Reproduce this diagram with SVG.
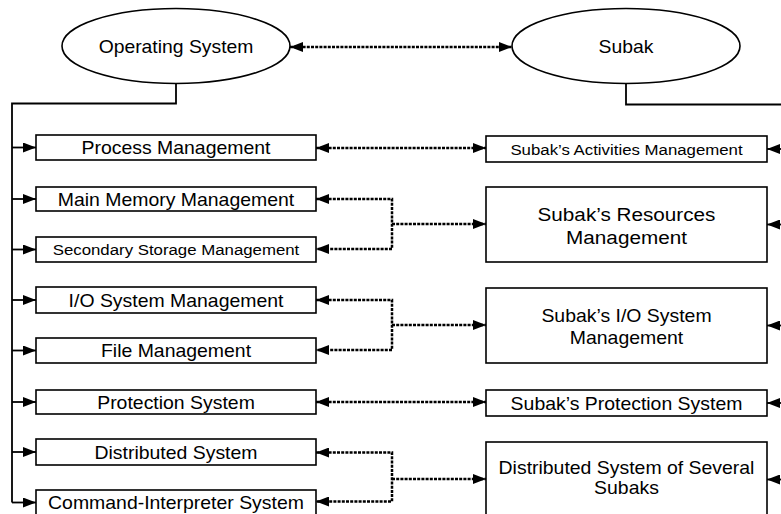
<svg xmlns="http://www.w3.org/2000/svg" width="781" height="514" viewBox="0 0 781 514">
  <style>
    .shape { fill: #ffffff; stroke: #000000; stroke-width: 1.6; }
    .tree { fill: none; stroke: #000000; stroke-width: 1.8; }
    .dot { fill: none; stroke: #000000; stroke-width: 2.5; stroke-dasharray: 3 1.2; }
    .lbl { font-family: "Liberation Sans", Arial, sans-serif; font-size: 18px; fill: #000000; text-anchor: middle; }
    .sm { font-size: 15.5px; }
    .lg { font-size: 19px; }
  </style>
  <defs>
    <marker id="ah" viewBox="0 0 13 10" refX="13" refY="5" markerWidth="13" markerHeight="10" markerUnits="userSpaceOnUse" orient="auto-start-reverse">
      <path d="M0,0 L13,5 L0,10 Z" fill="#000000"/>
    </marker>
  </defs>

  <!-- connectors -->
  <g id="connectors">
    <!-- operating system tree -->
    <path class="tree" d="M176,84 V103.5 H12 V502.5"/>
    <path class="tree" d="M12,147.5 H36" marker-end="url(#ah)"/>
    <path class="tree" d="M12,199 H36" marker-end="url(#ah)"/>
    <path class="tree" d="M12,249.5 H36" marker-end="url(#ah)"/>
    <path class="tree" d="M12,300 H36" marker-end="url(#ah)"/>
    <path class="tree" d="M12,350.5 H36" marker-end="url(#ah)"/>
    <path class="tree" d="M12,402 H36" marker-end="url(#ah)"/>
    <path class="tree" d="M12,452 H36" marker-end="url(#ah)"/>
    <path class="tree" d="M12,502.5 H36" marker-end="url(#ah)"/>

    <!-- subak tree -->
    <path class="tree" d="M626,84 V104.5 H782"/>
    <path class="tree" d="M782,149 H767" marker-end="url(#ah)"/>
    <path class="tree" d="M782,224.5 H767" marker-end="url(#ah)"/>
    <path class="tree" d="M782,325.5 H767" marker-end="url(#ah)"/>
    <path class="tree" d="M782,403 H767" marker-end="url(#ah)"/>
    <path class="tree" d="M782,479.5 H767" marker-end="url(#ah)"/>

    <!-- correspondences -->
    <path class="dot" d="M290,47 H512" marker-start="url(#ah)" marker-end="url(#ah)"/>
    <path class="dot" d="M316,148 H486" marker-start="url(#ah)" marker-end="url(#ah)"/>
    <path class="dot" d="M316,199 H392 V249 H316" marker-start="url(#ah)" marker-end="url(#ah)"/>
    <path class="dot" d="M392,224 H486" marker-end="url(#ah)"/>
    <path class="dot" d="M316,300 H392 V350 H316" marker-start="url(#ah)" marker-end="url(#ah)"/>
    <path class="dot" d="M392,325 H486" marker-end="url(#ah)"/>
    <path class="dot" d="M316,402 H486" marker-start="url(#ah)" marker-end="url(#ah)"/>
    <path class="dot" d="M316,452.5 H392 V501.5 H316" marker-start="url(#ah)" marker-end="url(#ah)"/>
    <path class="dot" d="M392,479 H486" marker-end="url(#ah)"/>
  </g>

  <!-- top-level nodes -->
  <g id="operating-system">
    <ellipse class="shape" cx="176" cy="46" rx="114" ry="37.5"/>
    <text class="lbl" transform="translate(176,52.5) scale(1.075,1)">Operating System</text>
  </g>
  <g id="subak">
    <ellipse class="shape" cx="626" cy="46" rx="114" ry="37.5"/>
    <text class="lbl" transform="translate(626,52.5) scale(1.075,1)">Subak</text>
  </g>

  <!-- operating system components -->
  <g id="process-management">
    <rect class="shape" x="36" y="135" width="280" height="25"/>
    <text class="lbl" transform="translate(176,154) scale(1.08,1)">Process Management</text>
  </g>
  <g id="main-memory-management">
    <rect class="shape" x="36" y="187" width="280" height="24"/>
    <text class="lbl" transform="translate(176,205.5) scale(1.08,1)">Main Memory Management</text>
  </g>
  <g id="secondary-storage-management">
    <rect class="shape" x="36" y="237" width="280" height="25"/>
    <text class="lbl sm" transform="translate(176,255) scale(1.085,1)">Secondary Storage Management</text>
  </g>
  <g id="io-system-management">
    <rect class="shape" x="36" y="287" width="280" height="26"/>
    <text class="lbl" transform="translate(176,306.5) scale(1.08,1)">I/O System Management</text>
  </g>
  <g id="file-management">
    <rect class="shape" x="36" y="338" width="280" height="25"/>
    <text class="lbl" transform="translate(176,357) scale(1.08,1)">File Management</text>
  </g>
  <g id="protection-system">
    <rect class="shape" x="36" y="390" width="280" height="24"/>
    <text class="lbl" transform="translate(176,408.5) scale(1.08,1)">Protection System</text>
  </g>
  <g id="distributed-system">
    <rect class="shape" x="36" y="439" width="280" height="26"/>
    <text class="lbl" transform="translate(176,458.5) scale(1.08,1)">Distributed System</text>
  </g>
  <g id="command-interpreter-system">
    <rect class="shape" x="36" y="490" width="280" height="25"/>
    <text class="lbl" transform="translate(176,509) scale(1.08,1)">Command-Interpreter System</text>
  </g>

  <!-- subak components -->
  <g id="subak-activities-management">
    <rect class="shape" x="486" y="136" width="281" height="26"/>
    <text class="lbl sm" transform="translate(626.5,154.5) scale(1.085,1)">Subak’s Activities Management</text>
  </g>
  <g id="subak-resources-management">
    <rect class="shape" x="486" y="187" width="281" height="75"/>
    <text class="lbl lg" transform="translate(626.5,220.5) scale(1.09,1)">Subak’s Resources</text>
    <text class="lbl lg" transform="translate(626.5,244) scale(1.09,1)">Management</text>
  </g>
  <g id="subak-io-system-management">
    <rect class="shape" x="486" y="288" width="281" height="75"/>
    <text class="lbl" transform="translate(626.5,321.5) scale(1.08,1)">Subak’s I/O System</text>
    <text class="lbl" transform="translate(626.5,343.5) scale(1.08,1)">Management</text>
  </g>
  <g id="subak-protection-system">
    <rect class="shape" x="486" y="390" width="281" height="26"/>
    <text class="lbl" transform="translate(626.5,409.5) scale(1.08,1)">Subak’s Protection System</text>
  </g>
  <g id="distributed-system-of-several-subaks">
    <rect class="shape" x="486" y="442" width="281" height="75"/>
    <text class="lbl" transform="translate(626.5,473.5) scale(1.08,1)">Distributed System of Several</text>
    <text class="lbl" transform="translate(626.5,494) scale(1.08,1)">Subaks</text>
  </g>
</svg>
